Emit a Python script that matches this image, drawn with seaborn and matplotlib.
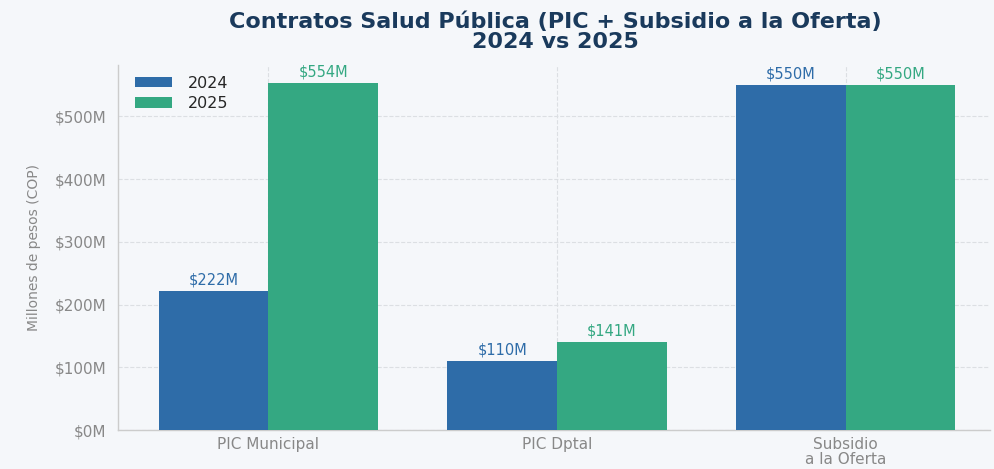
import matplotlib
matplotlib.use("Agg")
import matplotlib.pyplot as plt
import seaborn as sns
import pandas as pd

categories = ["PIC Municipal", "PIC Dptal", "Subsidio\na la Oferta"]
years = ["2024", "2025"]
values_2024 = [222, 110, 550]
values_2025 = [554, 141, 550]
ytick_values = [0, 100, 200, 300, 400, 500]

colors = {"2024": "#2e6ca8", "2025": "#34a882"}
bg = "#f5f7fa"

df = pd.DataFrame({
    "categoria": categories * 2,
    "anio": [years[0]] * len(categories) + [years[1]] * len(categories),
    "valor": values_2024 + values_2025,
})

sns.set_theme(style="white")
plt.rcParams["font.family"] = ["DejaVu Sans"]

fig = plt.figure(figsize=(9.95, 4.69), dpi=100, facecolor=bg)
ax = fig.add_axes([0.119, 0.083, 0.876, 0.778])
ax.set_facecolor(bg)

sns.barplot(data=df, x="categoria", y="valor", hue="anio", palette=colors,
            width=0.76, saturation=1, linewidth=0, ax=ax, zorder=3)

for container, yr in zip(ax.containers, years):
    for bar in container:
        h = bar.get_height()
        ax.annotate(f"${h:.0f}M", (bar.get_x() + bar.get_width() / 2, h),
                    xytext=(0, 2.5), textcoords="offset points",
                    ha="center", va="bottom", fontsize=10.5, color=colors[yr])

ax.set_xlim(-0.52, 2.5)
ax.set_ylim(0, max(values_2025 + values_2024) * 1.05)
ax.set_yticks(ytick_values)
ax.set_yticklabels([f"${v}M" for v in ytick_values])
ax.tick_params(axis="both", colors="#aaaaaa", labelcolor="#888888",
               labelsize=11, length=5, width=0.8)
ax.tick_params(axis="x", pad=0)
for lbl in ax.get_xticklabels():
    lbl.set_linespacing(1.0)
ax.set_xlabel("")
ax.set_ylabel("Millones de pesos (COP)", color="#888888", fontsize=10)
ax.yaxis.set_label_coords(-0.089, 0.5)

ax.grid(True, axis="both", linestyle="--", color="#dcdfe3", linewidth=0.8, zorder=0)
ax.set_axisbelow(True)
for s in ["top", "right"]:
    ax.spines[s].set_visible(False)
for s in ["left", "bottom"]:
    ax.spines[s].set_color("#cccccc")
    ax.spines[s].set_linewidth(1)

ax.legend(loc="upper left", bbox_to_anchor=(0.007, 1.0), frameon=False,
          fontsize=11.5, title=None, handlelength=2.3, handleheight=0.6,
          handletextpad=1.0, labelspacing=0.35, borderaxespad=0.35, borderpad=0.3)

fig.suptitle("Contratos Salud Pública (PIC + Subsidio a la Oferta)\n2024 vs 2025",
             x=0.558, y=0.975, fontsize=16, fontweight="bold", color="#1a3a5c",
             linespacing=1.0)

fig.savefig("out.png", dpi=100, facecolor=bg)
